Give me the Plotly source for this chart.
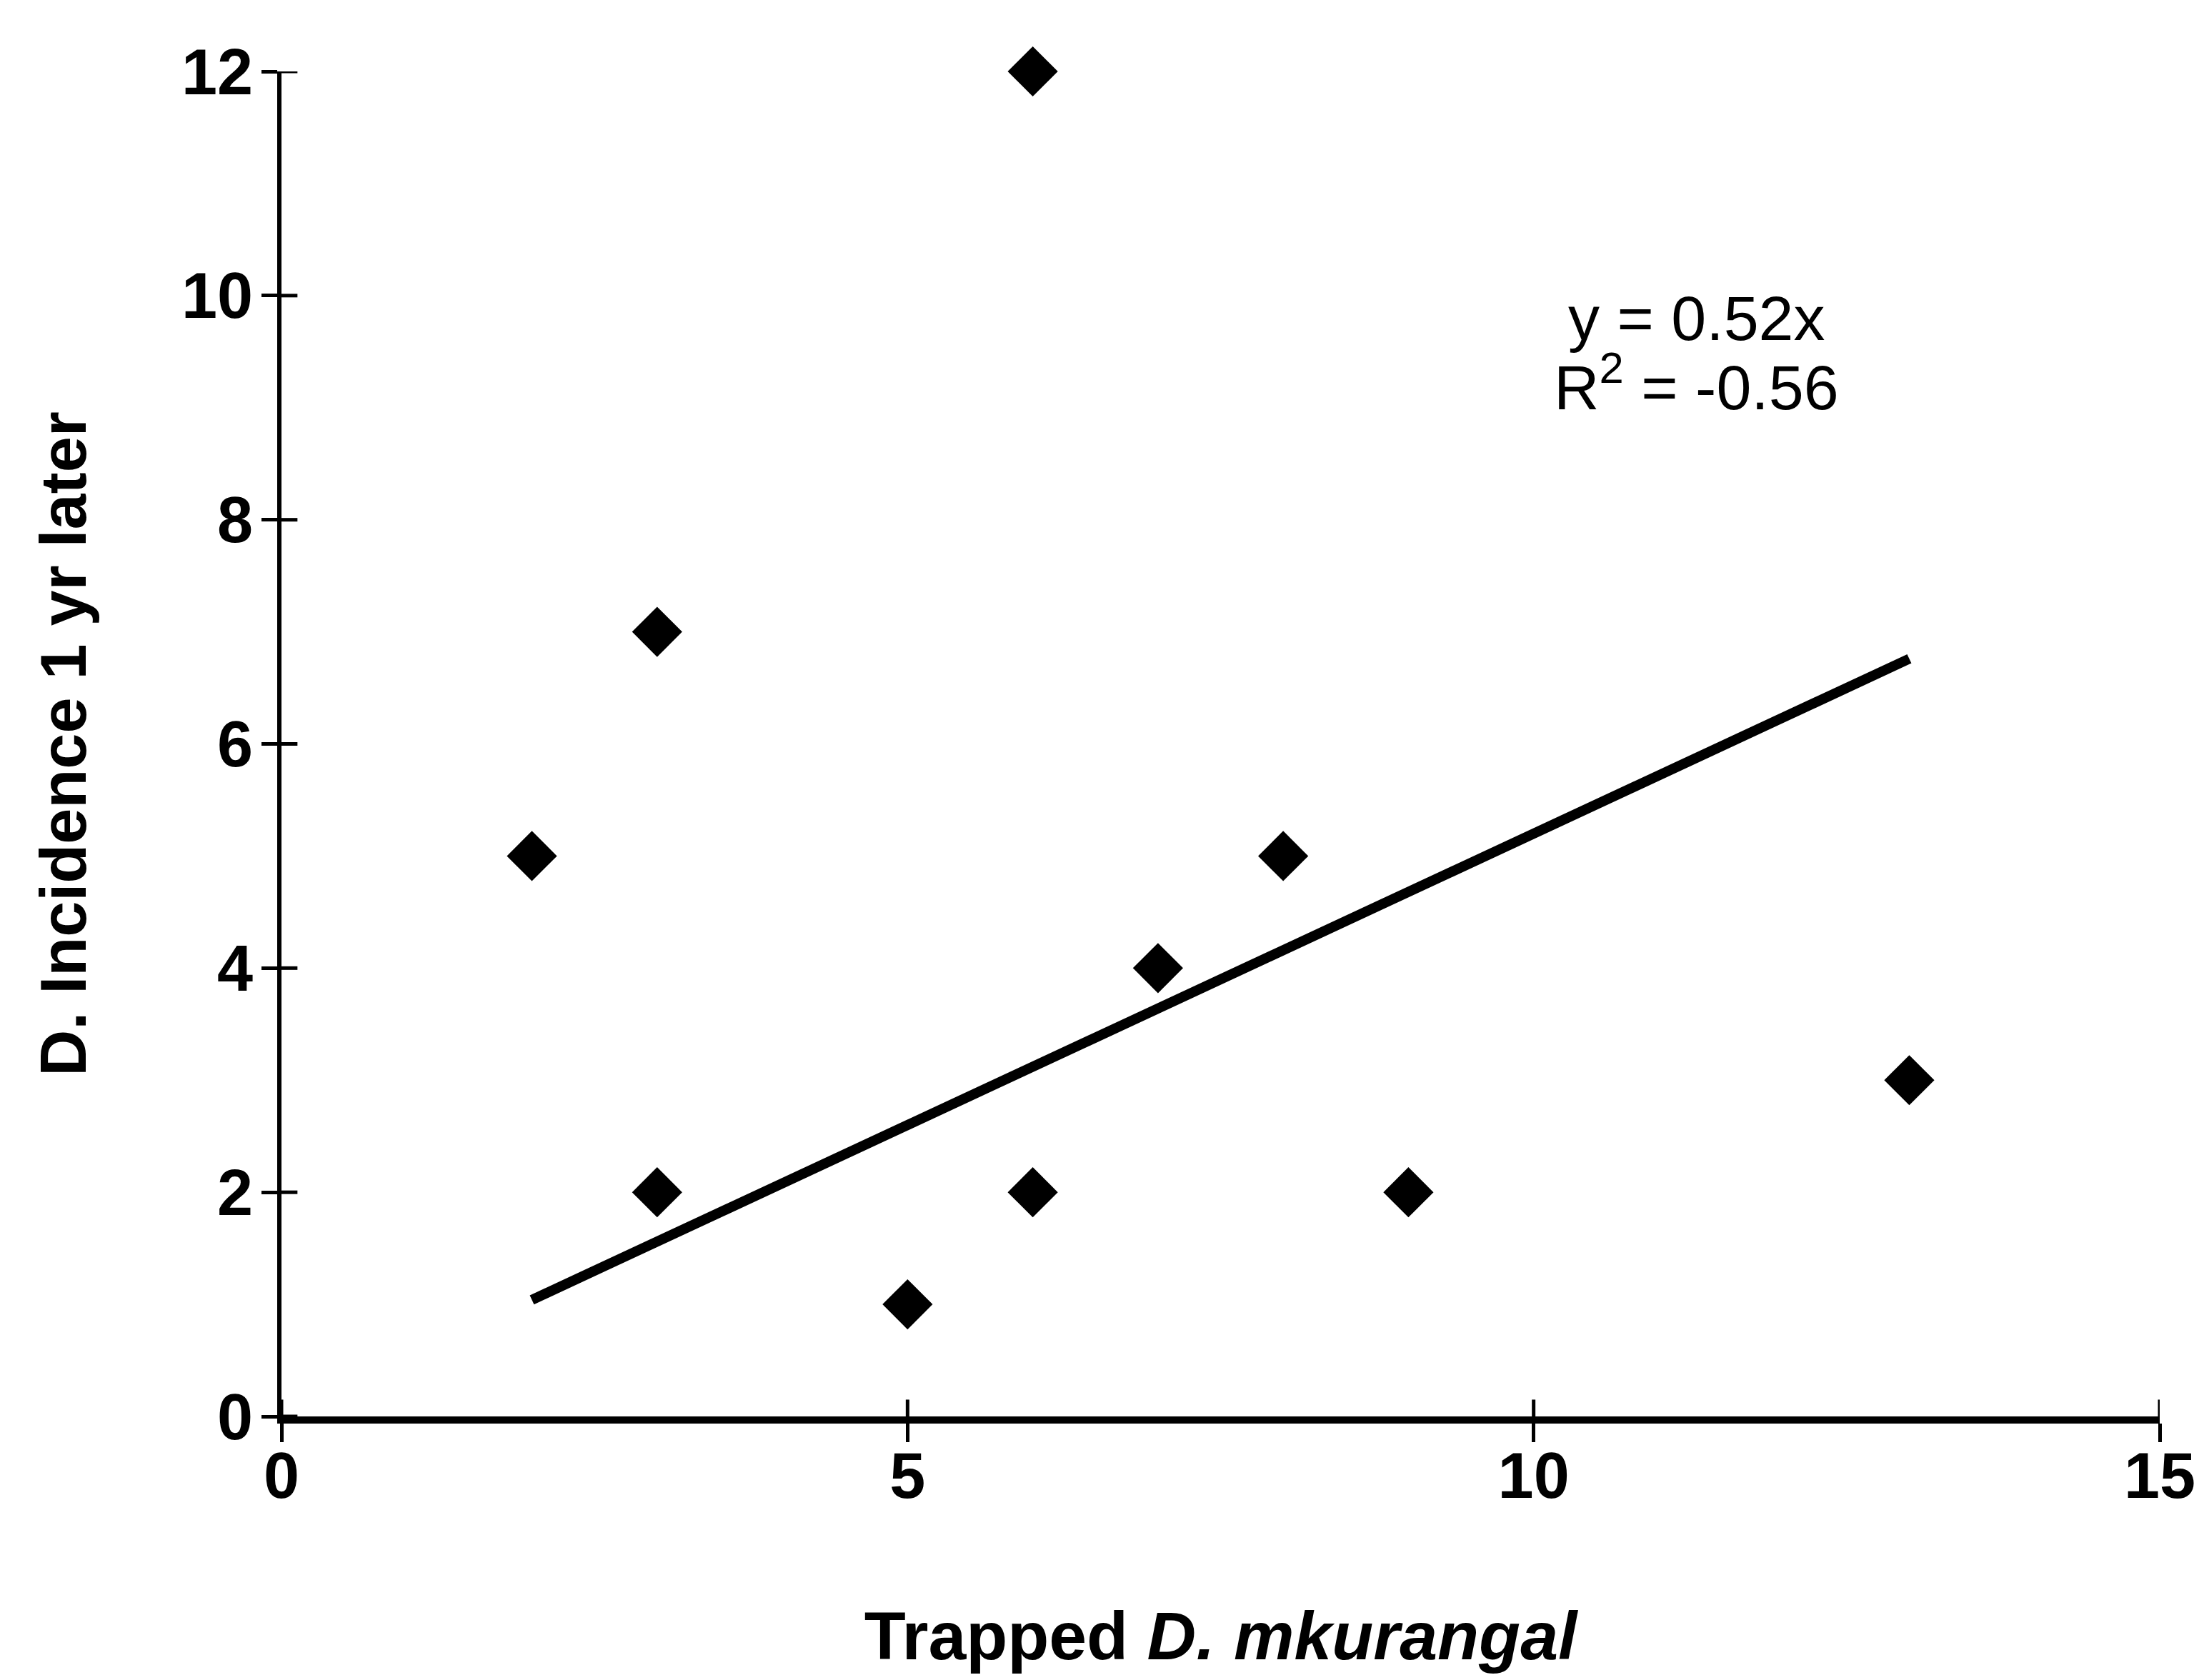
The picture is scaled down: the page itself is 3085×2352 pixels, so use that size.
import plotly.graph_objects as go

# Data
trapped = [2, 3, 3, 5, 6, 6, 7, 8, 9, 13]
incidence = [5, 7, 2, 1, 12, 2, 4, 5, 2, 3]
slope = 0.52
trend_x = [2, 13]
trend_y = [slope * v for v in trend_x]
x_ticks = [0, 5, 10, 15]
y_ticks = [0, 2, 4, 6, 8, 10, 12]
eq_text = "y = 0.52x"
r2_text = "R<sup>2</sup> = -0.56"

FONT = "Liberation Sans, Arial, sans-serif"

fig = go.Figure()
fig.add_trace(go.Scatter(
    x=trend_x, y=trend_y, mode="lines",
    line=dict(color="black", width=14),
    showlegend=False, hoverinfo="skip", cliponaxis=False))
fig.add_trace(go.Scatter(
    x=trapped, y=incidence, mode="markers",
    marker=dict(symbol="diamond", size=54, color="black"),
    showlegend=False, cliponaxis=False))

tickfont = dict(family=FONT, size=90, color="black", weight="bold")

# inner halves of the cross-style tick marks
shapes = []
for v in y_ticks:
    shapes.append(dict(type="line", xref="x domain", yref="y",
                       x0=0, x1=0.0085, y0=v, y1=v,
                       line=dict(color="black", width=5)))
for v in x_ticks:
    shapes.append(dict(type="line", xref="x", yref="y domain",
                       x0=v, x1=v, y0=0, y1=0.0125,
                       line=dict(color="black", width=5)))

fig.update_layout(
    width=3085, height=2352,
    paper_bgcolor="white", plot_bgcolor="white",
    margin=dict(l=386, r=70, t=92, b=377),
    xaxis=dict(
        range=[0, 15], tickvals=x_ticks, ticks="outside", ticklen=26,
        tickwidth=5, tickcolor="black", showline=True, linecolor="black",
        linewidth=10, showgrid=False, zeroline=False, tickfont=tickfont,
        ticklabelstandoff=-30,
        title=dict(text="Trapped <i>D. mkurangal</i>",
                   font=dict(family=FONT, size=95, color="black", weight="bold"),
                   standoff=145),
    ),
    yaxis=dict(
        range=[0, 12], tickvals=y_ticks, ticks="outside", ticklen=22,
        tickwidth=5, tickcolor="black", showline=True, linecolor="black",
        linewidth=6, showgrid=False, zeroline=False, tickfont=tickfont,
        ticklabelstandoff=-6,
        title=dict(text="D. Incidence 1 yr later",
                   font=dict(family=FONT, size=90, color="black", weight="bold"),
                   standoff=105),
    ),
    shapes=shapes,
    annotations=[
        dict(x=11.3, y=9.8, xref="x", yref="y", text=eq_text, showarrow=False,
             font=dict(family=FONT, size=88, color="black")),
        dict(x=11.3, y=9.22, xref="x", yref="y", text=r2_text, showarrow=False,
             font=dict(family=FONT, size=88, color="black")),
    ],
)

fig.write_html("out.html")
